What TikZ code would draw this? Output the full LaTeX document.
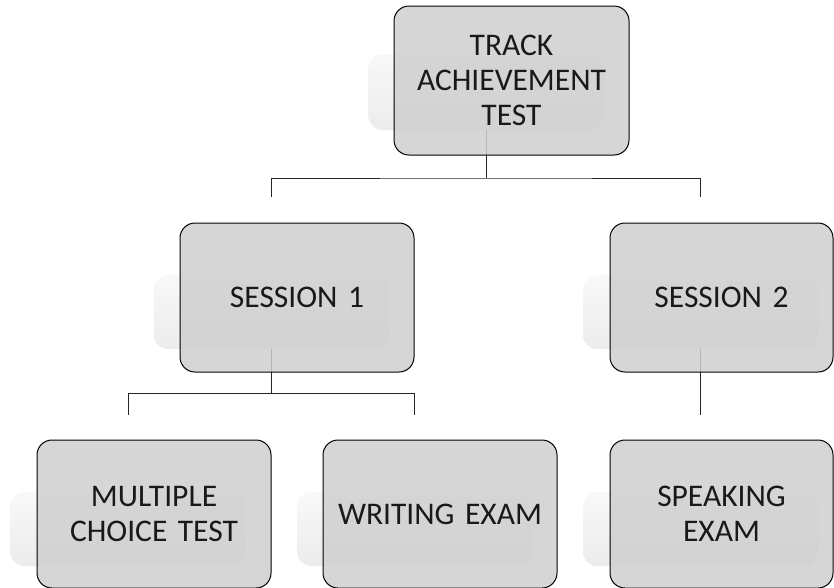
\documentclass[tikz,border=0pt]{standalone}
\usepackage{fontspec}
\setmainfont{Carlito}
\usetikzlibrary{calc}

\begin{document}
\begin{tikzpicture}[x=1pt, y=-1pt,
        box/.style={draw=black, line width=1pt, rounded corners=15pt, fill=gray!38, fill opacity=0.85, text opacity=1, text=black!90, minimum width=234pt, minimum height=149pt, text width=222pt, align=center, inner sep=0pt, font=\fontsize{31.5}{35}\selectfont},
        backdrop/.style={rounded corners=14pt, top color=gray!5, bottom color=gray!15, minimum width=235pt, minimum height=74pt, inner sep=0pt},
        link/.style={draw=black!85, line width=1pt}]

        \useasboundingbox (0,0) rectangle (834,587);

        % reflections behind the boxes
        \node[backdrop, minimum height=76pt] (topsh) at (486,92) {};
        \node[backdrop] (s1sh) at (271.5,312) {};
        \node[backdrop] (s2sh) at (700.5,312) {};
        \node[backdrop] (mcsh) at (128,529) {};
        \node[backdrop] (wesh) at (414.5,529) {};
        \node[backdrop] (spsh) at (700.5,529) {};

        % connector ends
        \coordinate (s1in) at (271.5,197);
        \coordinate (s2in) at (700.5,197);
        \coordinate (mcin) at (128,415);
        \coordinate (wein) at (414.5,415);
        \coordinate (spin) at (700.5,415);
        \coordinate (topfork) at (486,178);
        \coordinate (s1fork) at (271.5,393);

        % connectors
        \draw[link] (topsh.south) -- (topfork);
        \draw[link] (s1in) |- (topfork) -| (s2in);
        \draw[link] (s1sh.south) -- (s1fork);
        \draw[link] (mcin) |- (s1fork) -| (wein);
        \draw[link] (s2sh.south) -- (spin);

        % boxes
        \node[box, minimum width=235pt] (top) at (511.5,80.5) {TRACK\\ACHIEVEMENT\\TEST};
        \node[box] (s1) at (297,297.5) {SESSION 1};
        \node[box, minimum width=223pt, text width=211pt] (s2) at (721.5,297.5) {SESSION 2};
        \node[box, minimum height=148pt] (mc) at (154,514) {MULTIPLE\\CHOICE TEST};
        \node[box, minimum height=148pt] (we) at (440,514) {WRITING EXAM};
        \node[box, minimum height=148pt, minimum width=223pt, text width=211pt] (sp) at (721.5,514) {SPEAKING\\EXAM};
\end{tikzpicture}
\end{document}
